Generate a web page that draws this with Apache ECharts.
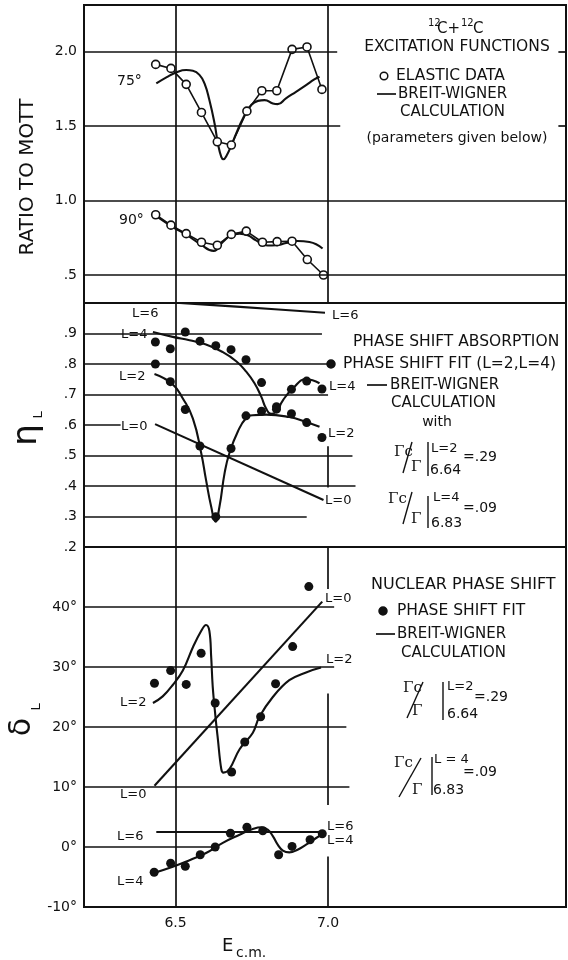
<!DOCTYPE html>
<html><head><meta charset="utf-8">
<script src="https://cdn.jsdelivr.net/npm/echarts@6/dist/echarts.min.js"></script>
<style>html,body{margin:0;padding:0;background:#fff}#c{width:568px;height:960px}</style>
</head><body><div id="c"></div>
<script>
// ---------- Panel 1: ratio to Mott (elastic data, open circles) ----------
const e75 = [6.435, 6.485, 6.535, 6.585, 6.637, 6.683, 6.734, 6.783, 6.832, 6.882, 6.931, 6.980];
const r75 = [1.915, 1.888, 1.781, 1.592, 1.395, 1.373, 1.601, 1.738, 1.738, 2.016, 2.032, 1.747];
const e90 = [6.435, 6.485, 6.535, 6.585, 6.637, 6.683, 6.732, 6.785, 6.833, 6.882, 6.932, 6.985];
const r90 = [0.905, 0.835, 0.778, 0.720, 0.700, 0.773, 0.795, 0.720, 0.724, 0.727, 0.604, 0.500];
// Breit-Wigner calculations
const bw75E = [6.437,6.470,6.502,6.535,6.557,6.579,6.595,6.611,6.628,6.639,6.650,6.657,6.668,6.682,6.699,6.721,6.748,6.770,6.792,6.819,6.835,6.862,6.895,6.928,6.955,6.972];
const bw75R = [1.787,1.828,1.861,1.877,1.872,1.843,1.787,1.675,1.518,1.384,1.294,1.278,1.305,1.366,1.451,1.552,1.642,1.670,1.675,1.653,1.648,1.687,1.731,1.776,1.814,1.832];
const bw90E = [6.437,6.491,6.535,6.579,6.625,6.655,6.683,6.710,6.737,6.764,6.802,6.830,6.862,6.900,6.939,6.982];
const bw90R = [0.895,0.822,0.771,0.711,0.662,0.722,0.767,0.778,0.767,0.733,0.698,0.700,0.715,0.729,0.722,0.678];

// ---------- Panel 2: eta_L (phase shift absorption) ----------
const eFit  = [6.434, 6.483, 6.532, 6.580, 6.632, 6.682, 6.731, 6.782, 6.831, 6.880, 6.930, 6.980];
const eta4  = [0.872, 0.850, 0.905, 0.875, 0.860, 0.847, 0.814, 0.739, 0.660, 0.717, 0.744, 0.718];
const eta2  = [0.800, 0.742, 0.651, 0.531, 0.299, 0.523, 0.630, 0.645, 0.652, 0.637, 0.608, 0.559];
const eta6bwE = [6.44, 6.70, 6.99];
const eta6bwV = [1.005, 0.988, 0.968];
const eta4bwE = [6.426,6.491,6.546,6.600,6.655,6.699,6.731,6.759,6.781,6.797,6.813,6.830,6.852,6.885,6.928,6.972];
const eta4bwV = [0.905,0.889,0.878,0.864,0.839,0.809,0.776,0.737,0.693,0.654,0.637,0.643,0.681,0.720,0.750,0.737];
const eta2bwE = [6.431,6.491,6.524,6.557,6.584,6.600,6.617,6.631,6.644,6.661,6.677,6.704,6.731,6.753,6.797,6.873,6.928,6.972];
const eta2bwV = [0.767,0.733,0.687,0.621,0.509,0.420,0.332,0.283,0.332,0.443,0.509,0.578,0.622,0.632,0.634,0.626,0.610,0.594];
const eta0bwE = [6.433, 6.985];
const eta0bwV = [0.603, 0.354];

// ---------- Panel 3: delta_L (nuclear phase shift, degrees) ----------
const d2E = [6.431, 6.484, 6.535, 6.584, 6.630, 6.684, 6.727, 6.779, 6.828, 6.884, 6.937];
const d2V = [27.3, 29.4, 27.1, 32.3, 24.0, 12.5, 17.5, 21.7, 27.2, 33.4, 43.4];
const d4E = [6.430, 6.484, 6.532, 6.581, 6.630, 6.680, 6.734, 6.786, 6.838, 6.882, 6.941, 6.981];
const d4V = [-4.2, -2.7, -3.2, -1.3, 0.0, 2.3, 3.3, 2.7, -1.3, 0.1, 1.2, 2.2];
const d2bwE = [6.426,6.458,6.491,6.524,6.557,6.584,6.600,6.611,6.617,6.622,6.631,6.639,6.650,6.657,6.677,6.710,6.753,6.775,6.819,6.873,6.928,6.977];
const d2bwV = [24.0,25.1,27.0,29.4,33.3,36.0,37.0,36.0,31.6,26.7,21.7,17.9,13.0,12.4,13.0,16.3,19.0,21.7,25.0,27.8,29.1,29.9];
const d0bwE = [6.431, 6.981];
const d0bwV = [10.2, 40.9];
const d6bwE = [6.437, 6.985];
const d6bwV = [2.5, 2.5];
const d4bwE = [6.431,6.491,6.546,6.600,6.655,6.710,6.753,6.781,6.802,6.819,6.835,6.852,6.873,6.900,6.928,6.961,6.988];
const d4bwV = [-4.3,-3.3,-2.2,-1.0,0.7,2.05,3.0,3.3,2.9,1.8,0.4,-0.6,-0.9,-0.45,0.4,1.5,2.3];

// ---------- tick labels ----------
const xTicks  = [6.5, 7.0];
const y1Ticks = [0.5, 1.0, 1.5, 2.0];
const y2Ticks = [0.2, 0.3, 0.4, 0.5, 0.6, 0.7, 0.8, 0.9];
const y3Ticks = [-10, 0, 10, 20, 30, 40];

// ---------- build option ----------
const INK = '#111';
const FONT = 'DejaVu Sans';
const zip = (xs, ys) => xs.map((x, i) => [x, ys[i]]);
const seg = (x1, y1, x2, y2) => [{coord: [x1, y1]}, {coord: [x2, y2]}];
const mk = (data) => ({silent: true, symbol: ['none', 'none'], label: {show: false},
  lineStyle: {color: INK, width: 1.7, type: 'solid', opacity: 1}, emphasis: {disabled: true}, data: data, animation: false});

const XMIN = 6.2, XMAX = 7.78;
const Y1 = [0.312, 2.314], Y2 = [0.2, 1.0], Y3 = [-10, 50];

const grid = [
  {left: 84, top: 5, width: 482, height: 298},
  {left: 84, top: 303, width: 482, height: 244},
  {left: 84, top: 547, width: 482, height: 360}
].map(g => Object.assign(g, {show: true, borderColor: INK, borderWidth: 2, backgroundColor: 'transparent'}));

const xAxis = [0, 1, 2].map(i => ({
  type: 'value', gridIndex: i, min: XMIN, max: XMAX,
  axisLine: {show: false}, axisTick: {show: false}, splitLine: {show: false},
  axisLabel: i === 2 ? {customValues: xTicks, formatter: v => v.toFixed(1), margin: 9,
    fontSize: 14, fontFamily: FONT, color: INK} : {show: false}
}));

const yLab = (ticks, fmt) => ({customValues: ticks, formatter: fmt, margin: 7, fontSize: 14, fontFamily: FONT, color: INK});
const yAxis = [
  {type: 'value', gridIndex: 0, min: Y1[0], max: Y1[1], axisLabel: yLab(y1Ticks, v => v < 1 ? v.toFixed(1).slice(1) : v.toFixed(1))},
  {type: 'value', gridIndex: 1, min: Y2[0], max: Y2[1], axisLabel: yLab(y2Ticks, v => v.toFixed(1).slice(1))},
  {type: 'value', gridIndex: 2, min: Y3[0], max: Y3[1], axisLabel: yLab(y3Ticks, v => v + '°')}
].map(a => Object.assign(a, {axisLine: {show: false}, axisTick: {show: false}, splitLine: {show: false}}));

const lineS = (i, xs, ys, smooth, extra) => Object.assign({
  type: 'line', xAxisIndex: i, yAxisIndex: i, data: zip(xs, ys), showSymbol: false, symbol: 'none',
  smooth: smooth, lineStyle: {color: INK, width: 2.1, opacity: 1}, silent: true, z: 2
}, extra || {});
const dataLine = (i, xs, ys) => ({
  type: 'line', xAxisIndex: i, yAxisIndex: i, data: zip(xs, ys), symbol: 'circle', symbolSize: 8,
  showAllSymbol: true, itemStyle: {color: '#fff', borderColor: INK, borderWidth: 1.6, opacity: 1},
  lineStyle: {color: INK, width: 1.6, opacity: 1}, silent: true, z: 4
});
const dots = (i, xs, ys) => ({
  type: 'scatter', xAxisIndex: i, yAxisIndex: i, data: zip(xs, ys), symbol: 'circle', symbolSize: 9,
  itemStyle: {color: INK, opacity: 1}, silent: true, z: 5
});

const series = [
  lineS(0, bw75E, bw75R, 0.5, {markLine: mk([
    seg(XMIN, 2.0, 7.03, 2.0), seg(XMIN, 1.5, 7.04, 1.5), seg(XMIN, 1.0, XMAX, 1.0), seg(XMIN, 0.5, XMAX, 0.5),
    seg(7.755, 2.0, XMAX, 2.0), seg(7.755, 1.5, XMAX, 1.5),
    seg(6.5, Y1[0], 6.5, Y1[1]), seg(7.0, Y1[0], 7.0, Y1[1])
  ])}),
  lineS(0, bw90E, bw90R, 0.5),
  dataLine(0, e75, r75),
  dataLine(0, e90, r90),

  lineS(1, eta0bwE, eta0bwV, false, {markLine: mk([
    seg(XMIN, 0.9, 6.98, 0.9), seg(XMIN, 0.8, 7.02, 0.8), seg(XMIN, 0.7, 7.0, 0.7), seg(XMIN, 0.6, 6.32, 0.6),
    seg(XMIN, 0.5, 7.08, 0.5), seg(XMIN, 0.4, 7.09, 0.4), seg(XMIN, 0.3, 6.93, 0.3),
    seg(6.5, Y2[0], 6.5, Y2[1]), seg(7.0, 0.395, 7.0, 0.53)
  ])}),
  lineS(1, eta6bwE, eta6bwV, 0.3),
  lineS(1, eta4bwE, eta4bwV, 0.5),
  lineS(1, eta2bwE, eta2bwV, 0.5),
  dots(1, eFit, eta4),
  dots(1, eFit, eta2),

  lineS(2, d0bwE, d0bwV, false, {markLine: mk([
    seg(XMIN, 40, 7.02, 40), seg(XMIN, 30, 7.02, 30), seg(XMIN, 20, 7.06, 20), seg(XMIN, 10, 7.07, 10),
    seg(XMIN, 0, 6.63, 0),
    seg(6.5, Y3[0], 6.5, Y3[1]), seg(7.0, 43, 7.0, 50), seg(7.0, 7, 7.0, 25.6), seg(7.0, -10, 7.0, -1.6)
  ])}),
  lineS(2, d6bwE, d6bwV, false),
  lineS(2, d2bwE, d2bwV, 0.4),
  lineS(2, d4bwE, d4bwV, 0.5),
  dots(2, d2E, d2V),
  dots(2, d4E, d4V)
];

// ---------- annotations ----------
const T = (text, x, y, size, o) => {
  o = o || {};
  return {type: 'text', x: x, y: y, rotation: o.rot || 0, silent: true, z: 10,
    style: {text: text, fontSize: size, fontFamily: o.ff || FONT, fill: INK,
      align: o.align || 'left', verticalAlign: 'middle', fontWeight: o.fw || 'normal'}};
};
const L = (x1, y1, x2, y2, w) => ({type: 'line', silent: true, z: 10,
  shape: {x1: x1, y1: y1, x2: x2, y2: y2}, style: {stroke: INK, lineWidth: w || 1.7}});
const C = (cx, cy, r, fill) => ({type: 'circle', silent: true, z: 10,
  shape: {cx: cx, cy: cy, r: r}, style: {fill: fill, stroke: INK, lineWidth: 1.5}});
const SERIF = 'DejaVu Serif';
const R90 = Math.PI / 2;

const graphic = [
  // axis names
  T('RATIO TO MOTT', 28, 177, 20, {align: 'center', rot: R90}),
  T('η', 27, 435, 34, {align: 'center', rot: R90}),
  T('L', 39, 415, 13, {align: 'center', rot: R90}),
  T('δ', 22, 727, 30, {align: 'center', rot: R90}),
  T('L', 37, 707, 13, {align: 'center', rot: R90}),
  T('E', 222, 946, 18),
  T('c.m.', 236, 953, 14),

  // panel 1
  T('75°', 117, 81, 14),
  T('90°', 119, 220, 14),
  T('12', 428, 23, 10), T('C+', 437, 29, 15), T('12', 461, 23, 10), T('C', 473, 29, 15),
  T('EXCITATION FUNCTIONS', 457, 47, 15.5, {align: 'center'}),
  C(384, 76, 3.8, '#fff'), T('ELASTIC DATA', 396, 76, 15.5),
  L(377, 94, 396, 94), T('BREIT-WIGNER', 398, 94, 15),
  T('CALCULATION', 400, 112, 15),
  T('(parameters given below)', 457, 138, 14, {align: 'center'}),

  // panel 2
  T('L=6', 132, 314, 13), T('L=6', 332, 316, 13),
  T('L=4', 121, 335, 13), T('L=4', 329, 387, 13),
  T('L=2', 119, 377, 13), T('L=2', 328, 434, 13),
  T('L=0', 121, 427, 13), T('L=0', 325, 501, 13),
  T('PHASE SHIFT ABSORPTION', 353, 342, 15.5),
  C(331, 364, 4, INK), T('PHASE SHIFT FIT (L=2,L=4)', 343, 364, 15.5),
  L(367, 385, 387, 385), T('BREIT-WIGNER', 390, 385, 15),
  T('CALCULATION', 391, 403, 15),
  T('with', 437, 422, 14, {align: 'center'}),
  T('Γc', 394, 452, 15, {ff: SERIF}), L(412, 442, 403, 473, 1.4), T('Γ', 411, 467, 15, {ff: SERIF}),
  L(428, 442, 428, 476, 1.4), T('L=2', 431, 449, 13), T('=.29', 463, 457, 14), T('6.64', 430, 470, 14),
  T('Γc', 388, 499, 15, {ff: SERIF}), L(412, 492, 403, 524, 1.4), T('Γ', 411, 519, 15, {ff: SERIF}),
  L(428, 496, 428, 528, 1.4), T('L=4', 433, 498, 13), T('=.09', 463, 508, 14), T('6.83', 431, 523, 14),

  // panel 3
  T('NUCLEAR PHASE SHIFT', 371, 585, 16),
  C(383, 611, 4, INK), T('PHASE SHIFT FIT', 397, 611, 15.5),
  L(376, 634, 395, 634), T('BREIT-WIGNER', 397, 634, 15),
  T('CALCULATION', 401, 653, 15),
  T('L=0', 325, 599, 13), T('L=2', 326, 660, 13),
  T('L=6', 327, 827, 13), T('L=4', 327, 841, 13),
  T('L=2', 120, 703, 13), T('L=0', 120, 795, 13),
  T('L=6', 117, 837, 13), T('L=4', 117, 882, 13),
  T('Γc', 403, 688, 15, {ff: SERIF}), L(423, 682, 407, 718, 1.4), T('Γ', 412, 711, 15, {ff: SERIF}),
  L(443, 682, 443, 720, 1.4), T('L=2', 447, 687, 13), T('=.29', 474, 697, 14), T('6.64', 447, 714, 14),
  T('Γc', 394, 763, 15, {ff: SERIF}), L(421, 758, 399, 797, 1.4), T('Γ', 412, 790, 15, {ff: SERIF}),
  L(432, 757, 432, 795, 1.4), T('L = 4', 434, 760, 13), T('=.09', 463, 772, 14), T('6.83', 433, 790, 14)
];

const chart = echarts.init(document.getElementById('c'), null, {renderer: 'canvas'});
chart.setOption({
  backgroundColor: '#fff',
  animation: false,
  grid: grid, xAxis: xAxis, yAxis: yAxis, series: series, graphic: graphic
});
</script></body></html>
